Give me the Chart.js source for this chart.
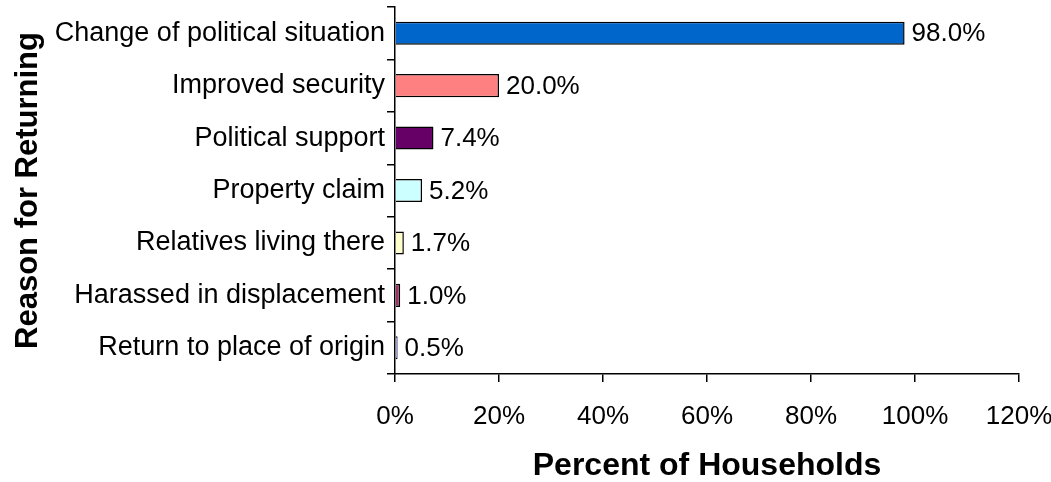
<!DOCTYPE html>
<html>
<head>
<meta charset="utf-8">
<script src="https://cdn.jsdelivr.net/npm/chart.js@4"></script>
<style>
  html, body { margin: 0; padding: 0; background: #fff; }
  #wrap { width: 1051px; height: 482px; }
</style>
</head>
<body>
<div id="wrap"><canvas id="chart"></canvas></div>
<script>
const reasons = [
  "Change of political situation",
  "Improved security",
  "Political support",
  "Property claim",
  "Relatives living there",
  "Harassed in displacement",
  "Return to place of origin"
]
const percents = [98.0, 20.0, 7.4, 5.2, 1.7, 1.0, 0.5]
const barColors = ["#0066CC", "#FF8080", "#660066", "#CCFFFF", "#FFFFCC", "#993366", "#9999FF"]

Chart.defaults.font.family = "'Liberation Sans', Arial, sans-serif"
Chart.defaults.color = "#000"

// Draw value labels to the right of each bar
const valueLabels = {
  id: "valueLabels",
  afterDatasetsDraw(chart) {
    const ctx = chart.ctx
    const meta = chart.getDatasetMeta(0)
    ctx.save()
    ctx.font = "26px 'Liberation Sans', Arial, sans-serif"
    ctx.fillStyle = "#000"
    ctx.textAlign = "left"
    ctx.textBaseline = "middle"
    meta.data.forEach((bar, i) => {
      ctx.fillText(percents[i].toFixed(1) + "%", bar.x + 7, bar.y + 1)
    })
    ctx.restore()
  }
}

new Chart(document.getElementById("chart"), {
  type: "bar",
  data: {
    labels: reasons,
    datasets: [{
      data: percents,
      backgroundColor: barColors,
      borderColor: "#000",
      borderWidth: 1.5,
      barPercentage: 0.44,
      categoryPercentage: 1
    }]
  },
  options: {
    indexAxis: "y",
    responsive: true,
    maintainAspectRatio: false,
    animation: false,
    layout: { padding: { top: 7, right: 32, left: 0, bottom: 0 } },
    plugins: {
      legend: { display: false },
      tooltip: { enabled: false }
    },
    scales: {
      x: {
        min: 0,
        max: 120,
        ticks: {
          stepSize: 20,
          callback: v => v + "%",
          font: { size: 26 },
          padding: 19
        },
        grid: { drawOnChartArea: false, tickLength: 8, color: "#000", lineWidth: 1.5 },
        border: { color: "#000", width: 1.5 },
        title: {
          display: true,
          text: "Percent of Households",
          font: { size: 32, weight: "bold", lineHeight: 1 },
          padding: { top: 10, bottom: 0 }
        },
        afterFit(scale) {
          scale.height = 108
          scale.paddingLeft = 0
          scale.paddingRight = 0
        }
      },
      y: {
        ticks: { font: { size: 27 }, padding: 2 },
        grid: { drawOnChartArea: false, tickLength: 8, color: "#000", lineWidth: 1.5, offset: true },
        border: { color: "#000", width: 1.5 },
        title: {
          display: true,
          text: "Reason for Returning",
          font: { size: 31, weight: "bold", lineHeight: 1 },
          padding: { top: 13, bottom: 0 }
        },
        afterFit(scale) {
          scale.width = 395
          scale.paddingTop = 0
          scale.paddingBottom = 0
        }
      }
    }
  },
  plugins: [valueLabels]
})
</script>
</body>
</html>
